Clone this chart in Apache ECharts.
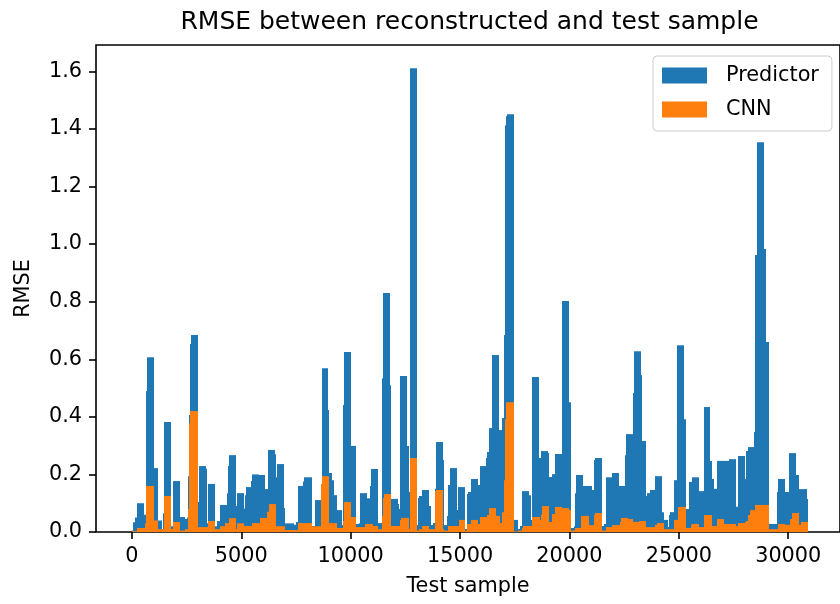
<!DOCTYPE html>
<html>
<head>
<meta charset="utf-8">
<script src="https://cdn.jsdelivr.net/npm/echarts@6/dist/echarts.min.js"></script>
<style>
  html, body { margin: 0; padding: 0; background: #fff; }
  #chart { width: 840px; height: 604px; }
</style>
</head>
<body>
<div id="chart"></div>
<script>
// RMSE per test sample, stored as runs: each run starts at a sample index and
// keeps its value until the next run begins (the last one ends at sampleEnd).
const sampleEnd = 30908;

const predictorStart = [
  0, 46, 137, 228, 546, 624, 683, 1001, 1184, 1366, 1411, 1457, 1775, 1866, 2185, 2413,
  2504, 2549, 2595, 2640, 2686, 3004, 3050, 3368, 3414, 3460, 3778, 3869, 4006, 4051,
  4370, 4415, 4461, 4780, 4825, 5144, 5189, 5235, 5462, 5508, 5827, 6100, 6236, 6555,
  6600, 6646, 6965, 7010, 7420, 7511, 7602, 7829, 7875, 8239, 8376, 8649, 8694, 8967,
  9013, 9150, 9241, 9377, 9605, 9650, 9696, 10014, 10242, 10379, 10424, 10743, 10879,
  10925, 11243, 11426, 11471, 11790, 11835, 12154, 12199, 12245, 12564, 12655, 12700,
  13019, 13064, 13110, 13246, 13565, 13656, 13747, 13838, 13884, 14202, 14248, 14384,
  14430, 14521, 14840, 14885, 15249, 15340, 15386, 15522, 15841, 15932, 16205, 16251,
  16342, 16478, 16797, 16933, 17024, 17070, 17116, 17161, 17480, 17662, 17753, 17844,
  18162, 18254, 18299, 18618, 18709, 19027, 19073, 19209, 19346, 19665, 19983, 20074,
  20211, 20256, 20302, 20621, 21030, 21121, 21167, 21485, 21576, 21668, 21941, 22259,
  22532, 22578, 22897, 22942, 23261, 23306, 23488, 23534, 23670, 23898, 24217, 24308,
  24490, 24535, 24581, 24763, 24899, 25218, 25309, 25446, 25582, 25901, 26128, 26447,
  26493, 26629, 26766, 27312, 27631, 27722, 28040, 28086, 28177, 28450, 28496, 28587,
  28905, 28996, 29133, 29497, 29542, 29861, 30043, 30362, 30498, 30863
];
const predictorRmse = [
  0.005, 0.034, 0.05, 0.10, 0.06, 0.49, 0.607, 0.222, 0.04, 0.01, 0.065, 0.382, 0.02, 0.177, 0.052, 0.045,
  0.05, 0.194, 0.406, 0.653, 0.684, 0.104, 0.229, 0.22, 0.03, 0.167, 0.02, 0.038, 0.045, 0.094,
  0.135, 0.229, 0.267, 0.09, 0.135, 0.082, 0.128, 0.156, 0.177, 0.20, 0.198, 0.149, 0.285, 0.27,
  0.19, 0.236, 0.083, 0.03, 0.025, 0.035, 0.16, 0.175, 0.19, 0.021, 0.111, 0.167, 0.569, 0.424,
  0.205, 0.18, 0.128, 0.076, 0.024, 0.441, 0.625, 0.299, 0.028, 0.03, 0.135, 0.117, 0.16,
  0.219, 0.031, 0.534, 0.83, 0.51, 0.115, 0.097, 0.08, 0.542, 0.299, 0.139, 1.611,
  0.024, 0.118, 0.125, 0.146, 0.09, 0.024, 0.031, 0.15, 0.3125, 0.25, 0.024, 0.056,
  0.163, 0.222, 0.076, 0.156, 0.01, 0.132, 0.139, 0.184, 0.163, 0.229, 0.257, 0.278,
  0.361, 0.615, 0.354, 0.396, 0.684, 1.413, 1.444, 1.451, 0.042, 0.01, 0.021, 0.142,
  0.128, 0.042, 0.538, 0.257, 0.281, 0.274, 0.191, 0.201, 0.271, 0.802, 0.451, 0.014,
  0.02, 0.135, 0.198, 0.16, 0.146, 0.25, 0.257, 0.021, 0.028, 0.19, 0.205, 0.16,
  0.267, 0.34, 0.483, 0.628, 0.545, 0.316, 0.125, 0.135, 0.146, 0.194, 0.069, 0.042,
  0.017, 0.059, 0.069, 0.18, 0.649, 0.392, 0.08, 0.174, 0.19, 0.142, 0.434, 0.247,
  0.184, 0.15, 0.247, 0.253, 0.088, 0.264, 0.184, 0.281, 0.295, 0.347, 0.962, 1.354,
  0.983, 0.66, 0.028, 0.139, 0.184, 0.139, 0.274, 0.198, 0.149, 0.115
];

const cnnStart = [
  0, 228, 592, 637, 1001, 1184, 1457, 1775, 1866, 2185, 2413, 2549, 2595, 2640, 3004, 3460,
  3778, 4051, 4279, 4461, 4780, 4825, 5144, 5508, 5872, 6191, 6282, 6600, 7010, 7602,
  8239, 8649, 8694, 9013, 9377, 9650, 9696, 10014, 10242, 10652, 11016, 11243, 11426,
  11471, 11517, 11835, 12245, 12290, 12655, 12700, 13019, 13110, 13246, 13565, 13838,
  13884, 14202, 14248, 14430, 14931, 15249, 15340, 15522, 15841, 15932, 16251, 16342,
  16660, 16842, 16933, 17024, 17070, 17116, 17480, 17662, 17844, 17889, 18299, 18663,
  18709, 18754, 19073, 19209, 19346, 19665, 19983, 20074, 20256, 20529, 20894, 21121,
  21167, 21485, 21668, 21941, 22305, 22350, 22669, 22897, 23170, 23488, 23898, 23989,
  24308, 24763, 24945, 25309, 25537, 25582, 25901, 26128, 26493, 26766, 27085, 27631,
  27722, 28040, 28086, 28177, 28268, 28496, 29133, 29542, 29861, 30088, 30179, 30498, 30589
];
const cnnRmse = [
  0.003, 0.014, 0.03, 0.16, 0.04, 0.01, 0.125, 0.01, 0.035, 0.005, 0.01, 0.08, 0.378, 0.42, 0.017, 0.038,
  0.01, 0.02, 0.031, 0.048, 0.01, 0.03, 0.021, 0.031, 0.049, 0.07, 0.097, 0.02, 0.007, 0.031,
  0.02, 0.167, 0.194, 0.031, 0.014, 0.038, 0.104, 0.052, 0.017, 0.028, 0.021, 0.01, 0.056,
  0.118, 0.132, 0.021, 0.042, 0.049, 0.01, 0.257, 0.005, 0.01, 0.021, 0.01, 0.142,
  0.146, 0.01, 0.005, 0.021, 0.042, 0.005, 0.028, 0.042, 0.028, 0.052, 0.059, 0.083,
  0.056, 0.031, 0.069, 0.18, 0.392, 0.451, 0.002, 0.005, 0.014, 0.021, 0.052, 0.042,
  0.06, 0.09, 0.035, 0.0625, 0.087, 0.083, 0.076, 0.005, 0.014, 0.056, 0.024, 0.059,
  0.066, 0.005, 0.017, 0.024, 0.035, 0.049, 0.045, 0.035, 0.038, 0.017, 0.025, 0.031,
  0.01, 0.042, 0.087, 0.014, 0.025, 0.028, 0.017, 0.059, 0.021, 0.045, 0.028, 0.021,
  0.031, 0.035, 0.038, 0.059, 0.076, 0.094, 0.01, 0.028, 0.025, 0.045, 0.066, 0.025, 0.035
];

const xTicks = [0, 5000, 10000, 15000, 20000, 25000, 30000];
const yTicks = [0, 0.2, 0.4, 0.6, 0.8, 1.0, 1.2, 1.4, 1.6];

const FONT = "'DejaVu Sans', sans-serif";
const BLUE = '#1f77b4';
const ORANGE = '#ff7f0e';

// One item per run: [first sample, end sample, RMSE].
function toRuns(starts, values) {
  return starts.map((s, i) => [s, i + 1 < starts.length ? starts[i + 1] : sampleEnd, values[i]]);
}

// Each run is a flat-topped bar spanning its samples; edges are snapped to
// whole pixels so neighbouring runs meet without a gap.
function runRenderer(color) {
  return function (params, api) {
    const top = api.coord([api.value(0), api.value(2)]);
    const base = api.coord([api.value(1), 0]);
    const x0 = Math.round(top[0]);
    const x1 = Math.round(base[0]);
    return {
      type: 'rect',
      silent: true,
      shape: { x: x0, y: top[1], width: Math.max(x1 - x0, 0), height: base[1] - top[1] },
      style: { fill: color, stroke: null, lineWidth: 0, opacity: 1 }
    };
  };
}

function runSeries(name, color, starts, values, z) {
  return {
    name: name,
    type: 'custom',
    silent: true,
    itemStyle: { color: color, borderWidth: 0, opacity: 1 },
    renderItem: runRenderer(color),
    encode: { x: [0, 1], y: 2 },
    data: toRuns(starts, values),
    z: z
  };
}

const chart = echarts.init(document.getElementById('chart'), null, { renderer: 'canvas' });

chart.setOption({
  animation: false,
  backgroundColor: '#ffffff',
  graphic: [{
    type: 'text',
    x: 469.5, y: 22,
    style: {
      text: 'RMSE between reconstructed and test sample',
      font: '25px ' + FONT,
      fill: '#000',
      textAlign: 'center',
      textVerticalAlign: 'middle'
    }
  }],
  legend: {
    data: ['Predictor', 'CNN'],
    orient: 'vertical',
    left: 653, top: 56,
    icon: 'rect',
    itemWidth: 45, itemHeight: 16, itemGap: 13,
    padding: [9, 13, 11, 9],
    backgroundColor: 'rgba(255,255,255,0.8)',
    borderColor: '#cccccc', borderWidth: 1, borderRadius: 4,
    textStyle: { fontFamily: FONT, fontSize: 20.8, color: '#000', lineHeight: 20, padding: [0, 0, 0, 14] }
  },
  grid: {
    left: 96, top: 45, width: 747, height: 487,
    show: true, borderColor: '#000', borderWidth: 1.6, backgroundColor: 'transparent'
  },
  xAxis: {
    type: 'value',
    min: -1639, max: 32366,
    name: 'Test sample',
    nameLocation: 'middle', nameGap: 44,
    nameTextStyle: { fontFamily: FONT, fontSize: 20.8, color: '#000' },
    axisLine: { show: false, onZero: false },
    axisTick: { show: true, length: 7, lineStyle: { color: '#000', width: 1.6 }, customValues: xTicks },
    axisLabel: { fontFamily: FONT, fontSize: 20.8, color: '#000', margin: 14, customValues: xTicks, formatter: v => String(v) },
    splitLine: { show: false }
  },
  yAxis: {
    type: 'value',
    min: 0, max: 1.6915,
    name: 'RMSE',
    nameLocation: 'middle', nameGap: 62, nameRotate: 90,
    nameTextStyle: { fontFamily: FONT, fontSize: 20.8, color: '#000' },
    axisLine: { show: false, onZero: false },
    axisTick: { show: true, length: 7, lineStyle: { color: '#000', width: 1.6 }, customValues: yTicks },
    axisLabel: { fontFamily: FONT, fontSize: 20.8, color: '#000', margin: 14, customValues: yTicks, formatter: v => v.toFixed(1) },
    splitLine: { show: false }
  },
  series: [
    runSeries('Predictor', BLUE, predictorStart, predictorRmse, 2),
    runSeries('CNN', ORANGE, cnnStart, cnnRmse, 3)
  ]
});
</script>
</body>
</html>
